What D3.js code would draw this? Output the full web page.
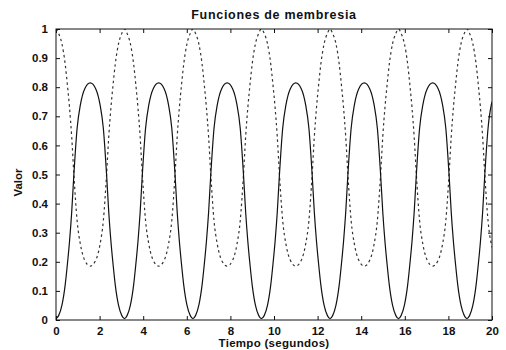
<!DOCTYPE html>
<html>
<head>
<meta charset="utf-8">
<script src="https://cdn.jsdelivr.net/npm/d3@7"></script>
<style>
  html, body { margin: 0; padding: 0; background: #fff; }
  svg text { font-family: "Liberation Sans", Arial, sans-serif; font-weight: bold; fill: #111; }
  .tick line { stroke: #111; }
</style>
</head>
<body>
<div id="chart"></div>
<script>
// Membership-function traces (time in seconds).
const timeValues = [
  0, 0.12, 0.27, 0.42, 0.52, 0.62, 0.72, 0.82, 0.97, 1.12, 1.32, 1.57, 1.82, 2.02, 2.17, 2.32, 2.42, 2.52, 2.62, 2.72, 2.87, 3.02,
  3.14, 3.26, 3.41, 3.56, 3.66, 3.76, 3.86, 3.96, 4.11, 4.26, 4.46, 4.71, 4.96, 5.16, 5.31, 5.46, 5.56, 5.66, 5.76, 5.86, 6.01, 6.16,
  6.28, 6.40, 6.55, 6.70, 6.80, 6.90, 7.00, 7.10, 7.25, 7.40, 7.60, 7.85, 8.10, 8.30, 8.45, 8.60, 8.70, 8.80, 8.90, 9.00, 9.15, 9.30,
  9.42, 9.55, 9.70, 9.85, 9.95, 10.05, 10.15, 10.25, 10.40, 10.55, 10.75, 11.00, 11.25, 11.45, 11.60, 11.75, 11.85, 11.95, 12.05, 12.15, 12.30, 12.45,
  12.57, 12.69, 12.84, 12.99, 13.09, 13.19, 13.29, 13.39, 13.54, 13.69, 13.89, 14.14, 14.39, 14.59, 14.74, 14.89, 14.99, 15.09, 15.19, 15.29, 15.44, 15.59,
  15.71, 15.83, 15.98, 16.13, 16.23, 16.33, 16.43, 16.53, 16.68, 16.83, 17.03, 17.28, 17.53, 17.73, 17.88, 18.03, 18.13, 18.23, 18.33, 18.43, 18.58, 18.73,
  18.85, 18.97, 19.12, 19.27, 19.37, 19.47, 19.57, 19.67, 19.82, 19.97, 20
];

const solidValues = [
  0.005, 0.015, 0.05, 0.12, 0.19, 0.27, 0.37, 0.50, 0.66, 0.74, 0.795, 0.815, 0.795, 0.74, 0.66, 0.50, 0.37, 0.27, 0.19, 0.12, 0.05, 0.015,
  0.005, 0.015, 0.05, 0.12, 0.19, 0.27, 0.37, 0.50, 0.66, 0.74, 0.795, 0.815, 0.795, 0.74, 0.66, 0.50, 0.37, 0.27, 0.19, 0.12, 0.05, 0.015,
  0.005, 0.015, 0.05, 0.12, 0.19, 0.27, 0.37, 0.50, 0.66, 0.74, 0.795, 0.815, 0.795, 0.74, 0.66, 0.50, 0.37, 0.27, 0.19, 0.12, 0.05, 0.015,
  0.005, 0.015, 0.05, 0.12, 0.19, 0.27, 0.37, 0.50, 0.66, 0.74, 0.795, 0.815, 0.795, 0.74, 0.66, 0.50, 0.37, 0.27, 0.19, 0.12, 0.05, 0.015,
  0.005, 0.015, 0.05, 0.12, 0.19, 0.27, 0.37, 0.50, 0.66, 0.74, 0.795, 0.815, 0.795, 0.74, 0.66, 0.50, 0.37, 0.27, 0.19, 0.12, 0.05, 0.015,
  0.005, 0.015, 0.05, 0.12, 0.19, 0.27, 0.37, 0.50, 0.66, 0.74, 0.795, 0.815, 0.795, 0.74, 0.66, 0.50, 0.37, 0.27, 0.19, 0.12, 0.05, 0.015,
  0.005, 0.015, 0.05, 0.12, 0.19, 0.27, 0.37, 0.50, 0.66, 0.74, 0.75
];

const dashedValues = [
  1.0, 0.985, 0.95, 0.88, 0.81, 0.73, 0.63, 0.50, 0.34, 0.26, 0.205, 0.185, 0.205, 0.26, 0.34, 0.50, 0.63, 0.73, 0.81, 0.88, 0.95, 0.985,
  1.0, 0.985, 0.95, 0.88, 0.81, 0.73, 0.63, 0.50, 0.34, 0.26, 0.205, 0.185, 0.205, 0.26, 0.34, 0.50, 0.63, 0.73, 0.81, 0.88, 0.95, 0.985,
  1.0, 0.985, 0.95, 0.88, 0.81, 0.73, 0.63, 0.50, 0.34, 0.26, 0.205, 0.185, 0.205, 0.26, 0.34, 0.50, 0.63, 0.73, 0.81, 0.88, 0.95, 0.985,
  1.0, 0.985, 0.95, 0.88, 0.81, 0.73, 0.63, 0.50, 0.34, 0.26, 0.205, 0.185, 0.205, 0.26, 0.34, 0.50, 0.63, 0.73, 0.81, 0.88, 0.95, 0.985,
  1.0, 0.985, 0.95, 0.88, 0.81, 0.73, 0.63, 0.50, 0.34, 0.26, 0.205, 0.185, 0.205, 0.26, 0.34, 0.50, 0.63, 0.73, 0.81, 0.88, 0.95, 0.985,
  1.0, 0.985, 0.95, 0.88, 0.81, 0.73, 0.63, 0.50, 0.34, 0.26, 0.205, 0.185, 0.205, 0.26, 0.34, 0.50, 0.63, 0.73, 0.81, 0.88, 0.95, 0.985,
  1.0, 0.985, 0.95, 0.88, 0.81, 0.73, 0.63, 0.50, 0.34, 0.26, 0.25
];

const xTicks = [0, 2, 4, 6, 8, 10, 12, 14, 16, 18, 20];
const yTicks = [0, 0.1, 0.2, 0.3, 0.4, 0.5, 0.6, 0.7, 0.8, 0.9, 1];

const titleText = 'Funciones de membresia';
const xLabelText = 'Tiempo (segundos)';
const yLabelText = 'Valor';

const width = 506;
const height = 350;
const margin = { top: 29, right: 14, bottom: 30, left: 56 };
const chartWidth = width - margin.left - margin.right;
const chartHeight = height - margin.top - margin.bottom;

const svg = d3
  .select('#chart')
  .append('svg')
  .attr('width', width)
  .attr('height', height)
  .style('display', 'block');

svg.append('rect').attr('width', width).attr('height', height).attr('fill', '#fff');

const g = svg.append('g').attr('transform', `translate(${margin.left},${margin.top})`);

const x = d3.scaleLinear().domain([0, 20]).range([0, chartWidth]);
const y = d3.scaleLinear().domain([0, 1]).range([chartHeight, 0]);

const yFormat = (d) => (d === 0 || d === 1 ? String(d) : d.toFixed(1));

// axes with inward ticks on all four sides, MATLAB style
g.append('g')
  .attr('transform', `translate(0,${chartHeight})`)
  .call(d3.axisBottom(x).tickValues(xTicks).tickSize(-4).tickPadding(7))
  .call((a) => a.select('.domain').remove())
  .selectAll('text')
  .attr('font-size', 11.5);

g.append('g')
  .call(d3.axisTop(x).tickValues(xTicks).tickSize(-4).tickFormat(''))
  .call((a) => a.select('.domain').remove());

g.append('g')
  .call(d3.axisLeft(y).tickValues(yTicks).tickSize(-4).tickPadding(8).tickFormat(yFormat))
  .call((a) => a.select('.domain').remove())
  .selectAll('text')
  .attr('font-size', 11.5);

g.append('g')
  .attr('transform', `translate(${chartWidth},0)`)
  .call(d3.axisRight(y).tickValues(yTicks).tickSize(-4).tickFormat(''))
  .call((a) => a.select('.domain').remove());

g.selectAll('.tick text').attr('fill', '#111').attr('font-family', null);

g.append('clipPath')
  .attr('id', 'plot-clip')
  .append('rect')
  .attr('width', chartWidth)
  .attr('height', chartHeight);

const points = timeValues.map((t, i) => ({ t, solid: solidValues[i], dashed: dashedValues[i] }));

const lineFor = (key) =>
  d3
    .line()
    .curve(d3.curveMonotoneX)
    .x((d) => x(d.t))
    .y((d) => y(d[key]));

g.append('path')
  .datum(points)
  .attr('clip-path', 'url(#plot-clip)')
  .attr('fill', 'none')
  .attr('stroke', '#333')
  .attr('stroke-width', 1.2)
  .attr('stroke-dasharray', '2.5,3')
  .attr('d', lineFor('dashed'));

g.append('path')
  .datum(points)
  .attr('clip-path', 'url(#plot-clip)')
  .attr('fill', 'none')
  .attr('stroke', '#111')
  .attr('stroke-width', 1.2)
  .attr('d', lineFor('solid'));

g.append('rect')
  .attr('width', chartWidth)
  .attr('height', chartHeight)
  .attr('fill', 'none')
  .attr('stroke', '#111')
  .attr('stroke-width', 1);

svg.append('text')
  .attr('x', margin.left + chartWidth / 2)
  .attr('y', 19)
  .attr('text-anchor', 'middle')
  .attr('font-size', 12.5)
  .attr('letter-spacing', 0.7)
  .text(titleText);

svg.append('text')
  .attr('x', margin.left + chartWidth / 2)
  .attr('y', 347)
  .attr('text-anchor', 'middle')
  .attr('font-size', 11.5)
  .attr('letter-spacing', 0.3)
  .text(xLabelText);

svg.append('text')
  .attr('transform', `translate(22,${margin.top + chartHeight / 2 + 8}) rotate(-90)`)
  .attr('text-anchor', 'middle')
  .attr('font-size', 11.5)
  .text(yLabelText);
</script>
</body>
</html>
